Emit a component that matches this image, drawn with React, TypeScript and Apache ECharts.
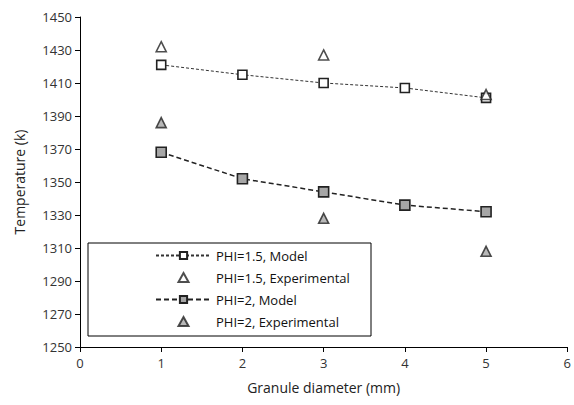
import React, { useEffect, useRef } from "react";
import * as echarts from "echarts";

const xModel = [1, 2, 3, 4, 5];
const phi15Model = [1421, 1415, 1410, 1407, 1401];
const phi2Model = [1368, 1352, 1344, 1336, 1332];
const xExp = [1, 3, 5];
const phi15Exp = [1432, 1427, 1403];
const phi2Exp = [1386, 1328, 1308];

const yTicks = { min: 1250, max: 1450, interval: 20 };
const xTicks = { min: 0, max: 6, interval: 1 };

const font = "'Open Sans', 'Liberation Sans', sans-serif";
const triIcon = "path://M5,0L10,9L0,9Z";

export default function App() {
  const ref = useRef<HTMLDivElement>(null);
  useEffect(() => {
    if (!ref.current) return;
    const chart = echarts.init(ref.current, null, { renderer: "svg" });
    const pair = (xs: number[], ys: number[]) => xs.map((x, i) => [x, ys[i]]);
    chart.setOption({
      animation: false,
      backgroundColor: "#ffffff",
      textStyle: { fontFamily: font },
      grid: { left: 80, top: 17, right: 0, bottom: 58, containLabel: false },
      xAxis: {
        type: "value",
        min: xTicks.min,
        max: xTicks.max,
        interval: xTicks.interval,
        name: "Granule diameter (mm)",
        nameLocation: "middle",
        nameGap: 33,
        nameTextStyle: { fontSize: 14, color: "#222", fontFamily: font },
        axisLine: { lineStyle: { color: "#000", width: 1 } },
        axisTick: { show: true, length: 5, lineStyle: { color: "#000" } },
        axisLabel: { fontSize: 13, color: "#333", margin: 9, fontFamily: font },
        splitLine: { show: false },
      },
      yAxis: {
        type: "value",
        min: yTicks.min,
        max: yTicks.max,
        interval: yTicks.interval,
        name: "Temperature (k)",
        nameLocation: "middle",
        nameGap: 54,
        nameTextStyle: { fontSize: 14, color: "#222", fontFamily: font },
        axisLine: { show: true, lineStyle: { color: "#000", width: 1 } },
        axisTick: { show: true, length: 5, lineStyle: { color: "#000" } },
        axisLabel: {
          fontSize: 13,
          color: "#333",
          margin: 8,
          fontFamily: font,
          formatter: (v: number) => String(v),
        },
        splitLine: { show: false },
      },
      graphic: [
        {
          type: "rect",
          shape: { x: 88, y: 243, width: 283, height: 93 },
          style: { fill: "#fff", stroke: "#000", lineWidth: 1 },
          z: 5,
        },
      ],
      legend: {
        orient: "vertical",
        left: 150,
        top: 244,
        itemWidth: 55,
        itemHeight: 9,
        itemGap: 9,
        z: 10,
        symbolKeepAspect: true,
        textStyle: { fontSize: 13, color: "#111", fontFamily: font },
        data: [
          { name: "PHI=1.5, Model" },
          { name: "PHI=1.5, Experimental", icon: triIcon },
          { name: "PHI=2, Model" },
          { name: "PHI=2, Experimental", icon: triIcon },
        ],
      },
      series: [
        {
          name: "PHI=1.5, Model",
          type: "line",
          data: pair(xModel, phi15Model),
          symbol: "rect",
          symbolSize: 9,
          lineStyle: { color: "#333", width: 1, type: [3, 2] },
          itemStyle: { color: "#fff", borderColor: "#222", borderWidth: 1.6 },
          z: 3,
        },
        {
          name: "PHI=1.5, Experimental",
          type: "scatter",
          data: pair(xExp, phi15Exp),
          symbol: "triangle",
          symbolSize: 10,
          itemStyle: { color: "#fff", borderColor: "#222", borderWidth: 1.6 },
          z: 4,
        },
        {
          name: "PHI=2, Model",
          type: "line",
          data: pair(xModel, phi2Model),
          symbol: "rect",
          symbolSize: 10,
          lineStyle: { color: "#222", width: 1.5, type: [5, 3] },
          itemStyle: { color: "#a6a6a6", borderColor: "#222", borderWidth: 1.6 },
          z: 3,
        },
        {
          name: "PHI=2, Experimental",
          type: "scatter",
          data: pair(xExp, phi2Exp),
          symbol: "triangle",
          symbolSize: 10,
          itemStyle: { color: "#a6a6a6", borderColor: "#222", borderWidth: 1.6 },
          z: 4,
        },
      ],
    });
    return () => chart.dispose();
  }, []);
  return (
    <div
      ref={ref}
      style={{ position: "fixed", left: 0, top: 0, width: 574, height: 405, background: "#fff" }}
    />
  );
}
